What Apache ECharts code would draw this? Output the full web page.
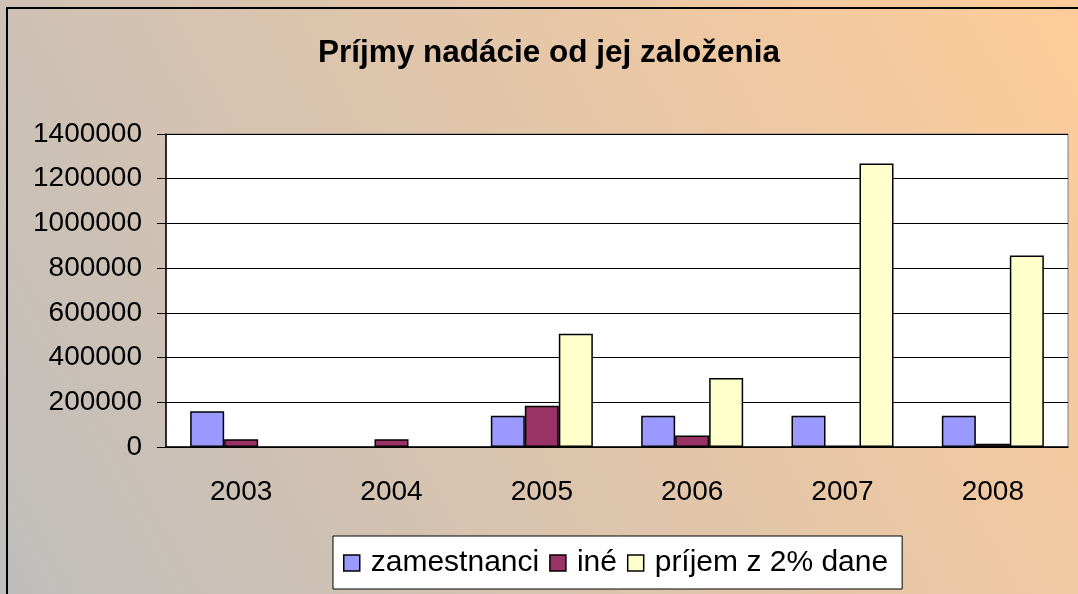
<!DOCTYPE html>
<html><head><meta charset="utf-8">
<script src="https://cdn.jsdelivr.net/npm/echarts@6/dist/echarts.min.js"></script>
<style>html,body{margin:0;padding:0}#c{width:1078px;height:594px}</style>
</head><body><div id="c"></div>
<script>
const years = ['2003','2004','2005','2006','2007','2008'];
const zamestnanci = [160000, null, 140000, 140000, 140000, 140000];
const ine = [35000, 35000, 185000, 51000, 7000, 15000];
const prijem = [null, null, 507000, 309000, 1268000, 856000];
const yTicks = [0, 200000, 400000, 600000, 800000, 1000000, 1200000, 1400000];

const chart = echarts.init(document.getElementById('c'));
const font = '"Liberation Sans", Arial, sans-serif';
const barStyle = c => ({color: c, borderColor: '#000', borderWidth: 1.5});
chart.setOption({
  backgroundColor: new echarts.graphic.LinearGradient(0, 1, 1, 0, [
    {offset: 0, color: '#BFBEBD'}, {offset: 1, color: '#FFCC99'}]),
  textStyle: {fontFamily: font},
  graphic: [{type: 'rect', shape: {x: 7, y: 8, width: 1200, height: 700},
    style: {fill: 'none', stroke: '#000', lineWidth: 2}, silent: true}],
  title: {text: 'Príjmy nadácie od jej založenia', left: 544, textAlign: 'center', top: 32,
    textStyle: {fontFamily: font, fontWeight: 'bold', fontSize: 31.5, color: '#000'}},
  grid: {left: 166, right: 10, top: 134, bottom: 147, show: true, backgroundColor: '#fff',
    borderColor: '#808080', borderWidth: 1},
  legend: {left: 333, top: 536, orient: 'horizontal', backgroundColor: '#fff', borderColor: '#000',
    borderWidth: 1, borderRadius: 0, padding: [12, 14, 11, 10], itemWidth: 16, itemHeight: 16, itemGap: 10,
    icon: 'rect', itemStyle: {borderColor: '#000', borderWidth: 1.5},
    textStyle: {fontFamily: font, fontSize: 30, color: '#000', padding: [0, 0, 0, 6]},
    data: ['zamestnanci', 'iné', 'príjem z 2% dane']},
  xAxis: {type: 'category', data: years,
    axisLine: {lineStyle: {color: '#000', width: 1.5}},
    axisTick: {inside: true, length: 6, lineStyle: {color: '#808080'}},
    axisLabel: {fontSize: 28, color: '#000', margin: 31, fontFamily: font}},
  yAxis: {type: 'value', min: yTicks[0], max: yTicks[yTicks.length - 1], interval: yTicks[1] - yTicks[0],
    axisLine: {show: true, lineStyle: {color: '#000', width: 1.5}},
    axisTick: {show: true, length: 9, lineStyle: {color: '#000'}},
    splitLine: {lineStyle: {color: '#000', width: 1}},
    axisLabel: {fontSize: 28, color: '#000', margin: 24, fontFamily: font, formatter: v => String(v)}},
  series: [
    {name: 'zamestnanci', type: 'bar', data: zamestnanci, barWidth: 34, barGap: '0%', itemStyle: barStyle('#9999FF')},
    {name: 'iné', type: 'bar', data: ine, barWidth: 34, barGap: '0%', itemStyle: barStyle('#993366')},
    {name: 'príjem z 2% dane', type: 'bar', data: prijem, barWidth: 34, barGap: '0%', itemStyle: barStyle('#FFFFCC')}
  ],
  animation: false
});
</script></body></html>
